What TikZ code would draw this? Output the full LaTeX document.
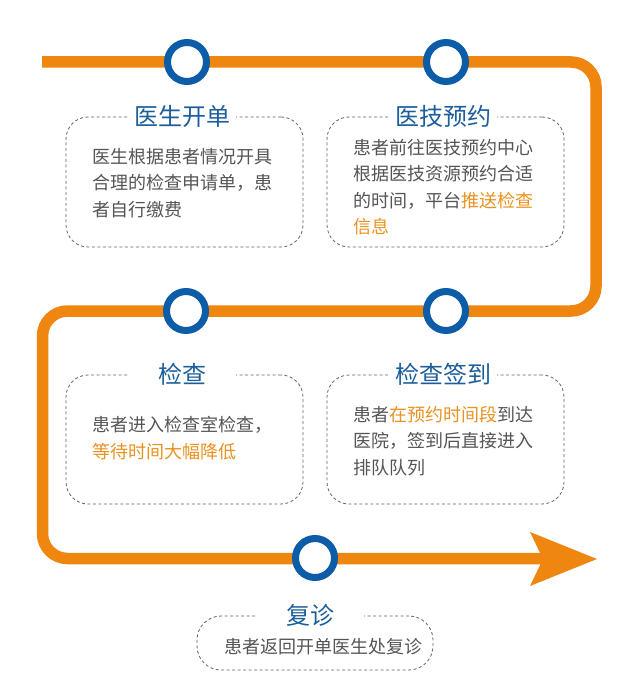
\documentclass[tikz,border=0pt]{standalone}
\usepackage{fontspec}
\newfontfamily\cjk{Noto Sans CJK SC}
\definecolor{trackorange}{RGB}{238,134,16}
\definecolor{ringblue}{RGB}{12,92,168}
\definecolor{titleblue}{RGB}{28,94,156}
\definecolor{bodygray}{RGB}{85,85,85}
\definecolor{hl}{RGB}{234,146,32}
\definecolor{dashgray}{RGB}{100,100,100}
\tikzset{
  track/.style={draw=trackorange, line width=11.5pt, rounded corners=25pt},
  stopring/.style={circle, draw=ringblue, line width=7pt, fill=white, minimum size=39pt, inner sep=0pt},
  card/.style={draw=dashgray, line width=0.8pt, dash pattern=on 3pt off 2.5pt, rounded corners=22pt, rectangle, inner sep=0pt},
  ttl/.style={fill=white, text=titleblue, font=\cjk\fontsize{24}{28}\selectfont, minimum width=108pt, inner sep=3pt},
  body/.style={text=bodygray, font=\cjk\fontsize{18}{26.5}\selectfont, align=left, anchor=north west, inner sep=0pt},
}
\begin{document}
\begin{tikzpicture}[x=1pt,y=-1pt]
\fill[white] (0,0) rectangle (640,700);
\useasboundingbox (0,0) rectangle (640,700);

% track
\coordinate (p0) at (42,62);
\coordinate (p1) at (596,62);
\coordinate (p2) at (596,311);
\coordinate (p3) at (42.5,311);
\coordinate (p4) at (42.5,558.5);
\coordinate (p5) at (545,558.5);
\draw[track] (p0) -- (p1) -- (p2) -- (p3) -- (p4) -- (p5);
\coordinate (tip) at (597,559);
\fill[trackorange] (530,532) -- (tip) -- (530,586) -- (543,559) -- cycle;

% stops
\node[stopring] (s1) at (187,62) {};
\node[stopring] (s2) at (446,62) {};
\node[stopring] (s3) at (186,311) {};
\node[stopring] (s4) at (446,311) {};
\node[stopring] (s5) at (315,558) {};

% cards
\node[card, minimum width=237pt, minimum height=130pt] (b1) at (184.5,182) {};
\node[card, minimum width=237pt, minimum height=130pt] (b2) at (445.5,182) {};
\node[card, minimum width=237pt, minimum height=129pt] (b3) at (184.5,439.5) {};
\node[card, minimum width=237pt, minimum height=129pt] (b4) at (445.5,439.5) {};
\node[card, minimum width=236pt, minimum height=54pt, rounded corners=24pt] (b5) at (315,643) {};

% titles
\node[ttl] (t1) at ([xshift=-2.5pt]b1.north) {医生开单};
\node[ttl] (t2) at ([xshift=-2.5pt]b2.north) {医技预约};
\node[ttl] (t3) at ([xshift=-2.5pt]b3.north) {检查};
\node[ttl] (t4) at ([xshift=-2.5pt]b4.north) {检查签到};
\node[ttl] (t5) at ([xshift=-5pt]b5.north) {复诊};

% bodies
\node[body] (x1) at (92,148) {医生根据患者情况开具\\合理的检查申请单，患\\者自行缴费};
\node[body] (x2) at (353,139) {患者前往医技预约中心\\根据医技资源预约合适\\的时间，平台\textcolor{hl}{推送检查}\\\textcolor{hl}{信息}};
\node[body] (x3) at (92,416) {患者进入检查室检查，\\\textcolor{hl}{等待时间大幅降低}};
\node[body] (x4) at (353,406) {患者\textcolor{hl}{在预约时间段}到达\\医院，签到后直接进入\\排队队列};
\node[text=bodygray, font=\cjk\fontsize{18}{22}\selectfont, inner sep=0pt] (x5) at (323,647) {患者返回开单医生处复诊};
\end{tikzpicture}
\end{document}
